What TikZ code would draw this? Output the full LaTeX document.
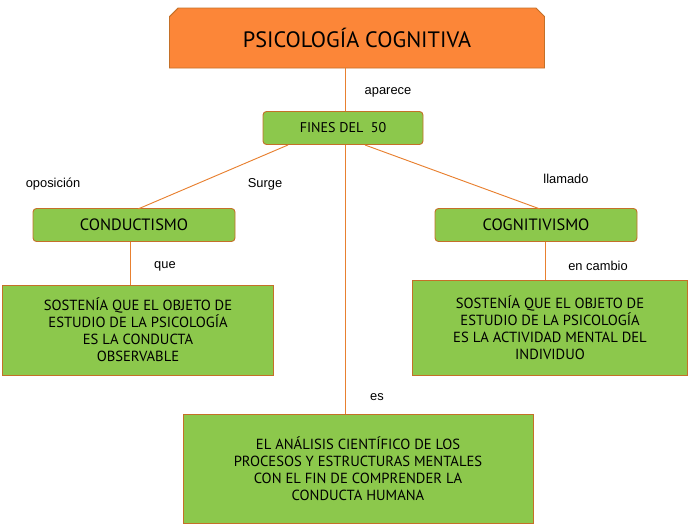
\documentclass[tikz,border=0pt]{standalone}
\usepackage{fontspec}
\setmainfont{PT Sans}
\newfontfamily\labelfont{Liberation Sans}
\usetikzlibrary{shapes.misc}
\definecolor{titlefill}{RGB}{252,134,56}
\definecolor{boxfill}{RGB}{140,200,76}
\definecolor{boxline}{RGB}{196,112,40}
\definecolor{linkline}{RGB}{232,128,48}
\tikzset{
    concept/.style={rectangle, rounded corners=3pt, draw=boxline, thick, fill=boxfill, align=center, inner sep=2pt},
    link/.style={draw=linkline, thick},
    word/.style={font=\labelfont\fontsize{11}{13}\selectfont, inner sep=1pt}
}
\begin{document}
\begin{tikzpicture}[x=0.03cm, y=-0.03cm]
    \useasboundingbox (0,0) rectangle (693,531);

    \node[chamfered rectangle, chamfered rectangle corners={north west,north east}, chamfered rectangle xsep=4pt, draw=boxline, thick, fill=titlefill, minimum width=375*0.03cm, minimum height=60*0.03cm, inner sep=0pt, font=\fontsize{19}{22}\selectfont] (title) at (357,38) {PSICOLOGÍA COGNITIVA};
    \node[concept, minimum width=160*0.03cm, minimum height=33*0.03cm, font=\fontsize{12}{14}\selectfont] (fines) at (343,128) {FINES DEL \ 50};
    \node[concept, minimum width=202*0.03cm, minimum height=33*0.03cm, font=\fontsize{14}{16}\selectfont] (cond) at (134,225) {CONDUCTISMO};
    \node[concept, minimum width=202*0.03cm, minimum height=33*0.03cm, font=\fontsize{14}{16}\selectfont] (cogn) at (536,225) {COGNITIVISMO};
    \node[concept, rounded corners=0pt, minimum width=271*0.03cm, minimum height=90*0.03cm, font=\fontsize{12.5}{14.5}\selectfont] (condtxt) at (138,330) {SOSTENÍA QUE EL OBJETO DE\\ESTUDIO DE LA PSICOLOGÍA\\ES LA CONDUCTA\\OBSERVABLE};
    \node[concept, rounded corners=0pt, minimum width=275*0.03cm, minimum height=95*0.03cm, font=\fontsize{12.5}{14.5}\selectfont] (cogntxt) at (550,328) {SOSTENÍA QUE EL OBJETO DE\\ESTUDIO DE LA PSICOLOGÍA\\ES LA ACTIVIDAD MENTAL DEL\\INDIVIDUO};
    \node[concept, rounded corners=0pt, minimum width=350*0.03cm, minimum height=109*0.03cm, font=\fontsize{12.5}{14.5}\selectfont] (analisis) at (358,469) {EL ANÁLISIS CIENTÍFICO DE LOS\\PROCESOS Y ESTRUCTURAS MENTALES\\CON EL FIN DE COMPRENDER LA\\CONDUCTA HUMANA};

    \coordinate (f1) at (288,145);
    \coordinate (f2) at (345,145);
    \coordinate (f3) at (365,145);
    \coordinate (c1) at (138,209);
    \coordinate (c2) at (540,209);

    \draw[link] (title.south -| f2) -- (fines.north -| f2);
    \draw[link] (f1) -- (c1);
    \draw[link] (f3) -- (c2);
    \draw[link] (f2) -- (analisis.north -| f2);
    \draw[link] (cond.south -| 130,0) -- (condtxt.north -| 130,0);
    \draw[link] (cogn.south -| 545,0) -- (cogntxt.north -| 545,0);

    \node[word] (aparece) at (388,92) {aparece};
    \node[word] (surge) at (265,184) {Surge};
    \node[word] (oposicion) at (53,184) {oposición};
    \node[word] (llamado) at (566,179) {llamado};
    \node[word] (que) at (165,266) {que};
    \node[word] (encambio) at (598,266) {en cambio};
    \node[word] (es) at (377,397) {es};
\end{tikzpicture}
\end{document}
